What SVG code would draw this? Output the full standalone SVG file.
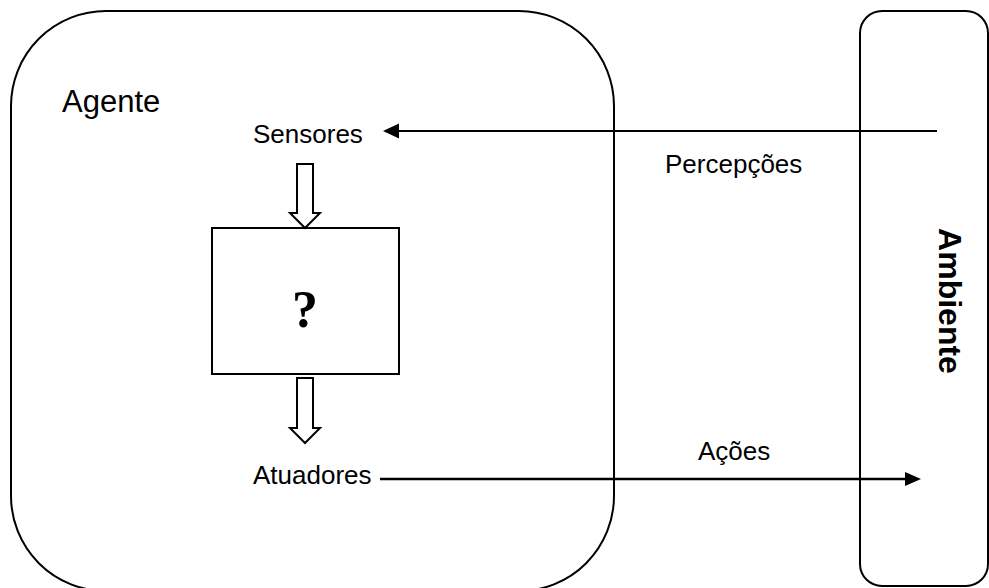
<svg xmlns="http://www.w3.org/2000/svg" width="989" height="588" viewBox="0 0 989 588">
<style>
.box{fill:none;stroke:#000;stroke-width:2}
.lbl{font-family:"Liberation Sans",Arial,sans-serif;font-size:26px;fill:#000}
.big{font-family:"Liberation Sans",Arial,sans-serif;font-size:31px;fill:#000}
.amb{font-family:"Liberation Sans",Arial,sans-serif;font-size:32px;font-weight:bold;fill:#000}
.q{font-family:"Liberation Serif","Times New Roman",serif;font-size:52px;font-weight:bold;fill:#000}
.hollow{fill:#fff;stroke:#000;stroke-width:2;stroke-linejoin:miter}
.conn{stroke:#000;fill:none}
.head{fill:#000}
</style>
<rect width="989" height="588" fill="#fff"/>
<g id="agente">
<rect class="box" x="11" y="11" width="603" height="580" rx="95" ry="95"/>
<text class="big" x="62" y="112">Agente</text>
</g>
<g id="ambiente">
<rect class="box" x="860" y="11" width="128" height="575" rx="22" ry="22"/>
<text class="amb" text-anchor="middle" transform="translate(939,301) rotate(90)">Ambiente</text>
</g>
<g id="sensores">
<text class="lbl" x="253" y="143">Sensores</text>
</g>
<g id="atuadores">
<text class="lbl" x="253" y="484">Atuadores</text>
</g>
<g id="processo">
<rect class="box" x="212" y="228" width="187" height="146"/>
<text class="q" x="305" y="327" text-anchor="middle">?</text>
</g>
<g id="connectors">
<path class="hollow" d="M297,164 H313 V213 H320 L305,228 L290,213 H297 Z"/>
<path class="hollow" d="M297,378 H313 V428 H320 L305,443 L290,428 H297 Z"/>
<line class="conn" x1="937" y1="131" x2="398" y2="131" stroke-width="2"/>
<polygon class="head" points="383,131 399,123.5 399,138.5"/>
<line class="conn" x1="380" y1="479" x2="906" y2="479" stroke-width="2.5"/>
<polygon class="head" points="921,479 905,472 905,486"/>
<text class="lbl" x="665" y="173">Percepções</text>
<text class="lbl" x="698" y="460">Ações</text>
</g>
</svg>
